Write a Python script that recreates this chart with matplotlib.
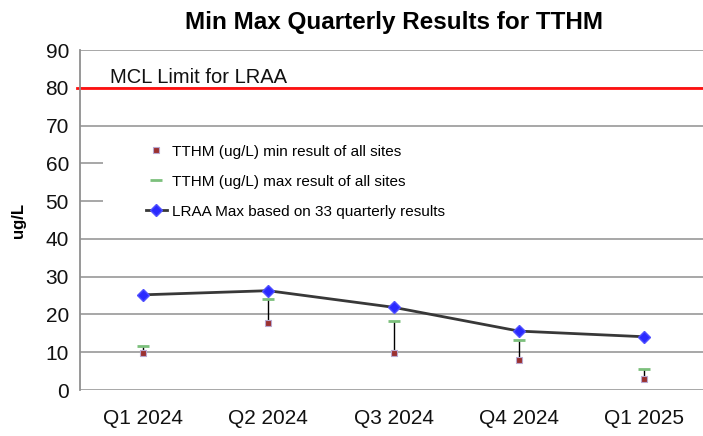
import numpy as np
import matplotlib.pyplot as plt
from matplotlib.patches import Rectangle

# --- data ---
quarters = ["Q1 2024", "Q2 2024", "Q3 2024", "Q4 2024", "Q1 2025"]
tthm_min = [9.8, 17.8, 9.8, 8.0, 2.8]
tthm_max = [11.7, 24.2, 18.2, 13.2, 5.6]
lraa_max = [25.2, 26.3, 21.9, 15.6, 14.1]
mcl_limit = 80

plt.rcParams['font.family'] = ['Liberation Sans', 'DejaVu Sans']

fig = plt.figure(figsize=(7.03, 4.36), dpi=100)
ax = fig.add_axes([0.1138, 0.1055, 0.892, 0.7795])

x = np.arange(len(quarters))

# high-low lines
ax.vlines(x, tthm_min, tthm_max, color='black', linewidth=1, zorder=3)

ax.plot(x, tthm_min, linestyle='none', marker='s', markersize=5,
        markerfacecolor='#9b3030', markeredgecolor='#b8a8d0', markeredgewidth=0.8,
        label="TTHM (ug/L) min result of all sites", zorder=4)
ax.plot(x, tthm_max, linestyle='none', marker='_', markersize=8,
        markeredgecolor='#7cc07c', markeredgewidth=2,
        label="TTHM (ug/L) max result of all sites", zorder=4)
ax.plot(x, lraa_max, color='#383838', linewidth=2, marker='D', markersize=6,
        markerfacecolor='#2a2aff', markeredgecolor='#5050ff',
        label="LRAA Max based on 33 quarterly results", zorder=5)

# MCL line
ax.axhline(mcl_limit, color='#ff1010', linewidth=2, zorder=2, clip_on=False,
           xmin=-0.005)
ax.text(-0.26, mcl_limit + 0.2, "MCL Limit for LRAA", fontsize=14.5, va='bottom',
        ha='left', color='#111111')

# axes settings
ax.set_xlim(-0.5, 4.5)
ax.set_ylim(0, 90)
ax.set_yticks(np.arange(0, 91, 10))
ax.set_xticks(x)
ax.set_xticklabels(quarters)
ax.tick_params(axis='both', length=0, labelsize=15, colors='#111111')
ax.tick_params(axis='y', pad=8)
ax.tick_params(axis='x', pad=14)
ax.grid(axis='y', color='#a0a0a0', linewidth=1.3, zorder=0)
ax.set_axisbelow(True)
for s in ['top', 'right', 'bottom']:
    ax.spines[s].set_visible(False)
ax.spines['left'].set_color('#909090')
ax.spines['left'].set_linewidth(1.3)

ax.set_ylabel("ug/L", fontsize=12, fontweight='bold', labelpad=14)

# white box behind legend
ax.add_patch(Rectangle((0.037, 0.48), 0.97, 0.24, transform=ax.transAxes,
                       facecolor='white', edgecolor='none', zorder=1))
ax.legend(loc='upper left', bbox_to_anchor=(0.095, 0.74), frameon=False,
          fontsize=11, handlelength=1.4, handletextpad=0.3, labelspacing=1.05,
          borderaxespad=0)

fig.suptitle("Min Max Quarterly Results for TTHM", fontsize=17.5, fontweight='bold',
             x=0.56, y=0.975)

fig.savefig("out.png", dpi=100)
